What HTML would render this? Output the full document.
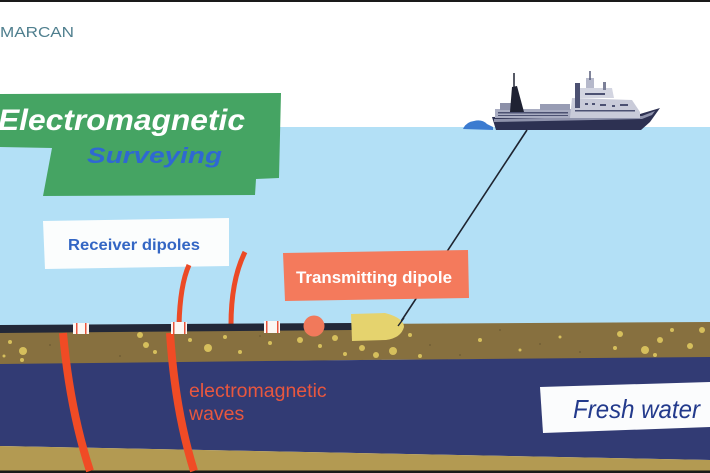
<!DOCTYPE html>
<html><head><meta charset="utf-8"><style>
html,body{margin:0;padding:0;background:#fff;}
svg{display:block;}
</style></head><body>
<svg width="710" height="473" viewBox="0 0 710 473" xmlns="http://www.w3.org/2000/svg">
<rect x="0" y="0" width="710" height="473" fill="#ffffff"/>
<!-- water -->
<rect x="0" y="127" width="710" height="200" fill="#b3e0f6"/>
<!-- sediment -->
<polygon points="0,326 710,322 710,358 360,360 0,365" fill="#87703f"/>
<g fill="#5f4f2e" opacity="0.5">
<circle cx="50" cy="345" r="1"/><circle cx="120" cy="356" r="1"/><circle cx="260" cy="336" r="1"/><circle cx="430" cy="345" r="1"/><circle cx="500" cy="330" r="1"/><circle cx="580" cy="352" r="1"/><circle cx="540" cy="344" r="1"/><circle cx="460" cy="355" r="1"/>
</g>
<g fill="#d6bf5c">
<circle cx="10" cy="342" r="2"/><circle cx="23" cy="351" r="4"/><circle cx="22" cy="360" r="2"/><circle cx="4" cy="356" r="1.5"/>
<circle cx="140" cy="335" r="3"/><circle cx="146" cy="345" r="3"/><circle cx="155" cy="352" r="2"/><circle cx="208" cy="348" r="4"/>
<circle cx="190" cy="340" r="2"/><circle cx="225" cy="337" r="2"/><circle cx="240" cy="352" r="2"/><circle cx="300" cy="340" r="3"/>
<circle cx="320" cy="346" r="2"/><circle cx="335" cy="338" r="3"/><circle cx="345" cy="354" r="2"/><circle cx="362" cy="348" r="3"/>
<circle cx="376" cy="355" r="3"/><circle cx="393" cy="351" r="4"/><circle cx="410" cy="335" r="2"/><circle cx="420" cy="356" r="2"/>
<circle cx="620" cy="334" r="3"/><circle cx="645" cy="350" r="4"/><circle cx="660" cy="340" r="3"/><circle cx="672" cy="330" r="2"/>
<circle cx="690" cy="346" r="3"/><circle cx="702" cy="330" r="3"/><circle cx="655" cy="355" r="2"/><circle cx="615" cy="348" r="2"/>
<circle cx="480" cy="340" r="2"/><circle cx="520" cy="350" r="1.5"/><circle cx="560" cy="337" r="1.5"/><circle cx="270" cy="343" r="2"/>
</g>
<!-- fresh water layer -->
<polygon points="0,364 360,360 710,357 710,460 0,446" fill="#323b74"/>
<!-- bottom sand -->
<polygon points="0,446 710,460 710,471 0,471" fill="#b39a52"/>
<!-- borders -->
<rect x="0" y="0" width="710" height="2" fill="#1a1a1a"/>
<rect x="0" y="470.5" width="710" height="3" fill="#1a1a1a"/>

<!-- MARCAN -->
<text x="0" y="37" font-family="Liberation Sans, sans-serif" font-size="15" fill="#4f7f8e" textLength="74" lengthAdjust="spacingAndGlyphs">MARCAN</text>

<!-- green banner -->
<polygon points="0,94 281,93 279,178 256,179 255,195 43,196 52,148 0,147" fill="#45a463"/>
<text x="-2" y="130" font-family="Liberation Sans, sans-serif" font-size="30" font-weight="bold" font-style="italic" fill="#ffffff" textLength="247" lengthAdjust="spacingAndGlyphs">Electromagnetic</text>
<text x="87" y="163" font-family="Liberation Sans, sans-serif" font-size="22" font-weight="bold" font-style="italic" fill="#2f68d2" textLength="135" lengthAdjust="spacingAndGlyphs">Surveying</text>

<!-- ship -->
<path d="M463,129 Q466,122 474,121 Q482,119 487,124 L493,127 L493,130 Z" fill="#3b7bd0"/>
<polygon points="492,117 640,114 660,108 650,122 641,130 496,130" fill="#2d3152"/>
<polygon points="494,119 642,116 655,111 652,115 642,119 494,122" fill="#8f93ac"/>
<rect x="495" y="109" width="80" height="9" fill="#a9adc2"/>
<g fill="#4c5172"><rect x="498" y="112" width="70" height="1.5"/><rect x="498" y="115" width="70" height="1"/></g>
<rect x="500" y="103" width="20" height="7" fill="#8c90a8"/>
<rect x="540" y="104" width="30" height="6" fill="#989cb4"/>
<polygon points="570,118 572,98 632,100 640,112 640,118" fill="#c9cbd9"/>
<polygon points="578,98 580,88 612,88 614,98" fill="#d3d5e1"/>
<rect x="586" y="78" width="8" height="10" fill="#b6b9cb"/>
<line x1="590" y1="71" x2="590" y2="80" stroke="#555a78" stroke-width="1.5"/>
<rect x="575" y="83" width="5" height="25" fill="#4c5172"/>
<rect x="603" y="82" width="3" height="8" fill="#7c8098"/>
<polygon points="510,112 512,87 517,86 524,112" fill="#1f2233"/>
<line x1="514" y1="73" x2="514" y2="88" stroke="#1f2233" stroke-width="1.5"/>
<g fill="#4c5172"><rect x="585" y="103" width="3" height="2"/><rect x="592" y="103" width="3" height="2"/><rect x="600" y="104" width="6" height="2"/><rect x="612" y="105" width="3" height="2"/><rect x="585" y="93" width="20" height="2"/><rect x="575" y="110" width="60" height="1.5"/><rect x="620" y="104" width="8" height="2"/></g>

<!-- tow line -->
<line x1="527" y1="130" x2="398" y2="326" stroke="#1e2430" stroke-width="1.6"/>

<!-- receiver label -->
<polygon points="43,221 229,218 229,266 45,269" fill="#fbfdfd"/>
<text x="68" y="250" font-family="Liberation Sans, sans-serif" font-size="16" font-weight="bold" fill="#3366c4" textLength="132" lengthAdjust="spacingAndGlyphs">Receiver dipoles</text>

<!-- transmitting label -->
<polygon points="283,253 468,250 469,298 285,301" fill="#f47a5c"/>
<text x="296" y="283" font-family="Liberation Sans, sans-serif" font-size="16.5" font-weight="bold" fill="#ffffff" textLength="156" lengthAdjust="spacingAndGlyphs">Transmitting dipole</text>

<!-- antennas above ground -->
<path d="M179,325 Q180,285 189,265" fill="none" stroke="#ec4a26" stroke-width="5"/>
<path d="M231,325 Q231,280 245,252" fill="none" stroke="#ec4a26" stroke-width="5"/>

<!-- waves below ground -->
<path d="M63,333 Q70,410 90,471" fill="none" stroke="#f04b25" stroke-width="8"/>
<path d="M170,333 Q175,410 194,471" fill="none" stroke="#f04b25" stroke-width="8"/>

<!-- cable -->
<polygon points="0,325 352,323 352,330 0,333" fill="#232838"/>
<!-- ring connectors -->
<g>
<rect x="73" y="323" width="16" height="11" fill="#fbf7f3"/>
<rect x="76" y="323" width="1.5" height="11" fill="#e8553d"/><rect x="85" y="323" width="1.5" height="11" fill="#e8553d"/>
<rect x="171" y="322" width="16" height="12" fill="#fbf7f3"/>
<rect x="173" y="322" width="1.5" height="12" fill="#e8553d"/><rect x="184" y="322" width="1.5" height="12" fill="#e8553d"/>
<rect x="264" y="321" width="16" height="12" fill="#fbf7f3"/>
<rect x="266" y="321" width="1.5" height="12" fill="#e8553d"/><rect x="277" y="321" width="1.5" height="12" fill="#e8553d"/>
</g>
<circle cx="314" cy="326" r="10.5" fill="#f1795b"/>
<!-- transmitter -->
<path d="M351,314 L385,313 Q404,318 404,327 Q401,338 386,340 L352,341 Z" fill="#e5d36e"/>
<line x1="404" y1="318" x2="398" y2="326" stroke="#1e2430" stroke-width="1.4"/>

<!-- electromagnetic waves text -->
<text font-family="Liberation Sans, sans-serif" font-size="19.5" fill="#e8573f">
<tspan x="189" y="397">electromagnetic</tspan>
<tspan x="189" y="420">waves</tspan>
</text>

<!-- fresh water label -->
<polygon points="540,387 710,382 710,427 543,433" fill="#fbfcfd"/>
<text x="573" y="418" font-family="Liberation Sans, sans-serif" font-size="26" font-style="italic" fill="#233a8c" textLength="127" lengthAdjust="spacingAndGlyphs">Fresh water</text>
</svg>
</body></html>
